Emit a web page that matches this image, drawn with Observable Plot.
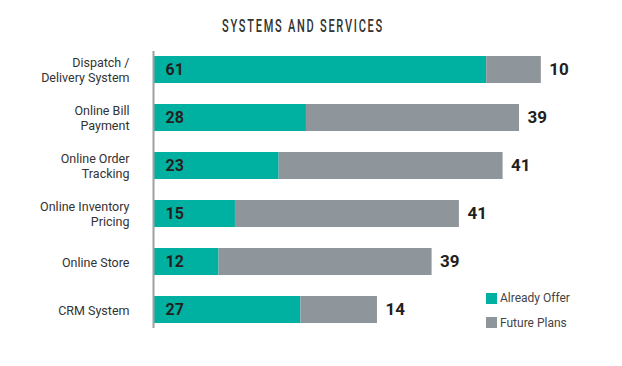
<!DOCTYPE html>
<html>
<head>
<meta charset="utf-8">
<script src="https://cdn.jsdelivr.net/npm/d3@7"></script>
<script src="https://cdn.jsdelivr.net/npm/@observablehq/plot@0.6"></script>
<style>
  html, body { margin: 0; padding: 0; background: #fff; }
  #wrap { position: relative; width: 622px; height: 366px; font-family: Roboto, "Open Sans", sans-serif; }
  #title { height: 40px; position: relative; }
  #title span { position: absolute; left: 303px; top: 16px; transform: translateX(-50%) scaleX(0.58); white-space: nowrap;
    font-family: Roboto, sans-serif; font-size: 19px; font-weight: 500; letter-spacing: 3px; color: #333; line-height: 1; }
  #legend { position: absolute; left: 486px; top: 292px; font-size: 12px; color: #444; }
  .item { display: flex; align-items: center; height: 12px; margin-bottom: 12.5px; }
  .sw { width: 11px; height: 11px; margin-right: 3px; }
</style>
</head>
<body>
<div id="wrap">
  <div id="title"><span>SYSTEMS AND SERVICES</span></div>
  <div id="chart"></div>
  <div id="legend"></div>
</div>
<script>
const categories = ["Dispatch /\nDelivery System", "Online Bill\nPayment", "Online Order\nTracking", "Online Inventory\nPricing", "Online Store", "CRM System"];
const alreadyOffer = [61, 28, 23, 15, 12, 27];
const futurePlans = [10, 39, 41, 41, 39, 14];
const seriesNames = ["Already Offer", "Future Plans"];
const seriesColors = ["#00b0a1", "#8e959b"];

const rows = [];
categories.forEach((c, i) => {
  rows.push({category: c, series: seriesNames[0], value: alreadyOffer[i]});
  rows.push({category: c, series: seriesNames[1], value: futurePlans[i]});
});
const totals = categories.map((c, i) => ({category: c, first: alreadyOffer[i], total: alreadyOffer[i] + futurePlans[i], future: futurePlans[i]}));

const chart = Plot.plot({
  width: 622,
  height: 326,
  marginTop: 11,
  marginBottom: 38,
  marginLeft: 153,
  marginRight: 32,
  x: {domain: [0, 80], axis: null},
  y: {domain: categories, axis: null, paddingInner: 0.4375, paddingOuter: 0.104},
  color: {domain: seriesNames, range: seriesColors},
  style: {fontFamily: "Roboto, sans-serif", background: "transparent"},
  marks: [
    Plot.barX(rows, Plot.stackX({x: "value", y: "category", fill: "series", order: seriesNames})),
    Plot.ruleX([0], {stroke: "#a0a0a0", strokeWidth: 2}),
    Plot.text(categories, {x: 0, y: d => d, text: d => d, dx: -24, textAnchor: "end", fontSize: 12.5, lineHeight: 1.2, fill: "#333"}),
    Plot.text(totals, {x: 0, y: "category", text: "first", dx: 12, textAnchor: "start", fontSize: 16, fontWeight: "bold", fill: "#231f20"}),
    Plot.text(totals, {x: "total", y: "category", text: "future", dx: 8, textAnchor: "start", fontSize: 17, fontWeight: "bold", fill: "#231f20"})
  ]
});
document.getElementById("chart").appendChild(chart);

const legend = document.getElementById("legend");
seriesNames.forEach((s, i) => {
  const it = document.createElement("div");
  it.className = "item";
  it.innerHTML = `<div class="sw" style="background:${seriesColors[i]}"></div><span>${s}</span>`;
  legend.appendChild(it);
});
</script>
</body>
</html>
